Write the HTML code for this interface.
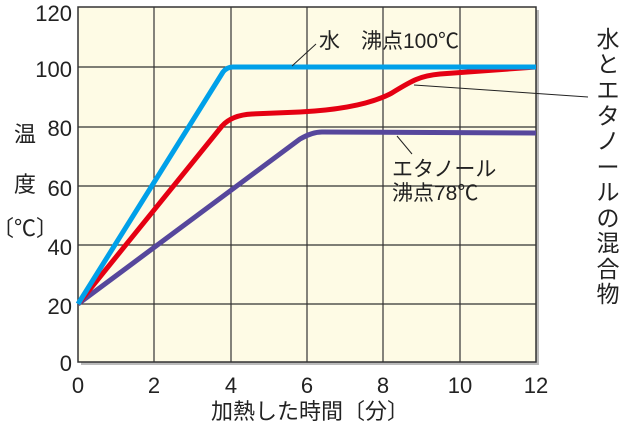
<!DOCTYPE html>
<html><head><meta charset="utf-8"><style>
body{margin:0;background:#fff;}
svg text{font-family:"Liberation Sans","Noto Sans CJK JP",sans-serif;fill:#222;}
</style></head><body>
<svg width="626" height="429" viewBox="0 0 626 429" xmlns="http://www.w3.org/2000/svg">
<rect x="81" y="10" width="458" height="355" fill="#bbb"/>
<rect x="78" y="7" width="458" height="355" fill="#fefbe5" stroke="#333" stroke-width="1.5"/>
<g stroke="#333" stroke-width="1.2">
<line x1="154" y1="7" x2="154" y2="362"/><line x1="231" y1="7" x2="231" y2="362"/>
<line x1="307" y1="7" x2="307" y2="362"/><line x1="383" y1="7" x2="383" y2="362"/>
<line x1="460" y1="7" x2="460" y2="362"/>
<line x1="78" y1="67" x2="536" y2="67"/><line x1="78" y1="127" x2="536" y2="127"/>
<line x1="78" y1="186" x2="536" y2="186"/><line x1="78" y1="245" x2="536" y2="245"/>
<line x1="78" y1="304" x2="536" y2="304"/>
</g>
<g fill="none" stroke-width="5" stroke-linejoin="round" stroke-linecap="butt">
<path d="M78,304 L300,139 Q312,132 322,132 L536,133" stroke="#56479c"/>
<path d="M78,304 L222,126 Q232,115 252,114 L300,112 C340,110 370,104 390,94 C410,82 418,76 440,74 L536,67" stroke="#e50012"/>
<path d="M78,304 L223,72 Q227,67 233,67 L536,67" stroke="#00a0e9"/>
</g>
<g stroke="#222" stroke-width="1">
<line x1="292" y1="66" x2="316" y2="44"/>
<line x1="414" y1="85" x2="588" y2="97"/>
<line x1="397" y1="136" x2="412" y2="154"/>
</g>
<g font-size="22" text-anchor="end">
<text x="72" y="21">120</text><text x="72" y="77">100</text><text x="72" y="136">80</text>
<text x="72" y="196">60</text><text x="72" y="255">40</text><text x="72" y="314">20</text>
<text x="72" y="371">0</text>
</g>
<g font-size="22" text-anchor="middle">
<text x="78" y="393">0</text><text x="154" y="393">2</text><text x="231" y="393">4</text>
<text x="307" y="393">6</text><text x="383" y="393">8</text><text x="460" y="393">10</text>
<text x="536" y="393">12</text>
</g>
<text x="310" y="419" font-size="22" text-anchor="middle">加熱した時間〔分〕</text>
<g font-size="22" text-anchor="middle">
<text x="25" y="142">温</text><text x="25" y="192">度</text><text x="25" y="236">〔℃〕</text>
</g>
<text x="319" y="48" font-size="21">水　沸点100℃</text>
<text x="392" y="176" font-size="21">エタノール</text>
<text x="392" y="200" font-size="21">沸点78℃</text>
<g font-size="23" text-anchor="middle">
<text x="608" y="47">水</text><text x="608" y="72">と</text><text x="608" y="98">エ</text>
<text x="608" y="124">タ</text><text x="608" y="149">ノ</text><text x="608" y="175">ー</text>
<text x="608" y="200">ル</text><text x="608" y="226">の</text><text x="608" y="251">混</text>
<text x="608" y="277">合</text>
<text x="608" y="302">物</text>
</g>
</svg>
</body></html>
